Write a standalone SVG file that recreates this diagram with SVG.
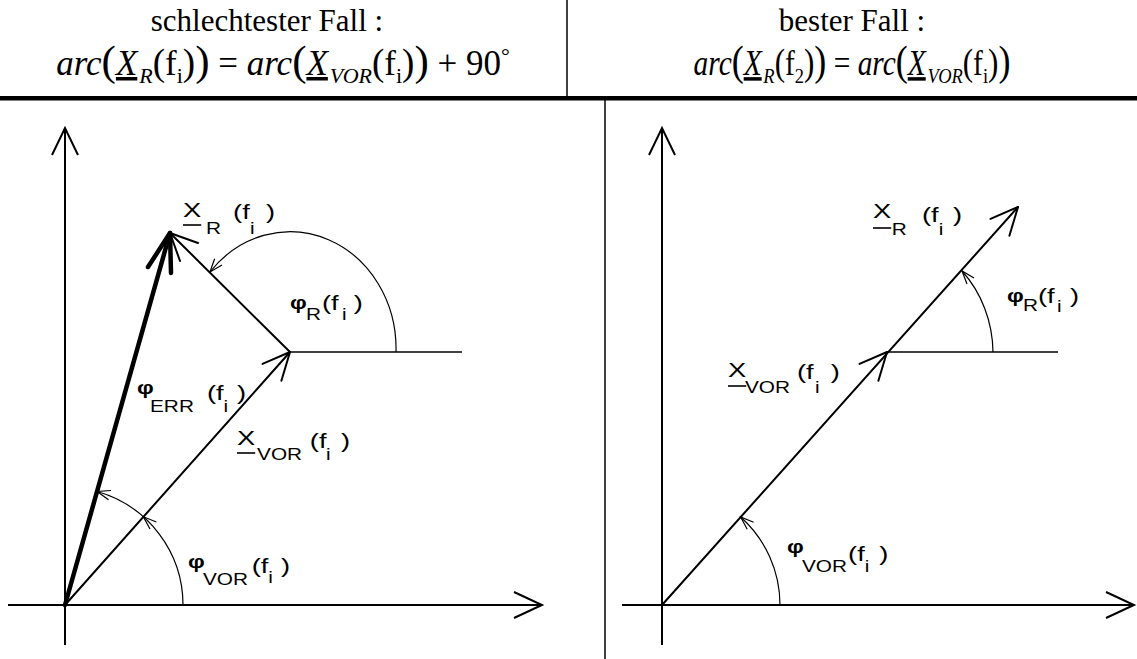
<svg xmlns="http://www.w3.org/2000/svg" width="1137" height="659" viewBox="0 0 1137 659">
<defs>
<style>
.ax{stroke:#000;stroke-width:2;fill:none}
.thin{stroke:#000;stroke-width:1.5;fill:none}
.vec{stroke:#000;stroke-width:2;fill:none;stroke-linecap:round;stroke-linejoin:round}
.thick{stroke:#000;stroke-width:4.5;fill:none;stroke-linecap:round;stroke-linejoin:round}
.arc{stroke:#000;stroke-width:1.2;fill:none}
.hd{font-family:"Liberation Serif","Times New Roman",serif;font-size:31px;fill:#000}
.eq{font-family:"Liberation Serif","Times New Roman",serif;font-size:35px;fill:#000}
.it{font-style:italic}
.ul{text-decoration:underline}
.sb{font-size:22px}
.mp{font-size:37px}
.bp{font-size:43px}
.lb{font-family:"Liberation Sans",Arial,sans-serif;font-size:21px;fill:#000}
.ls{font-size:16px}
.ph{font-size:18px;font-weight:bold}
.uln{stroke:#000;stroke-width:1.6}
</style>
</defs>
<rect width="1137" height="659" fill="#fff"/>
<g id="header">
<rect x="0" y="96" width="1137" height="4.5" fill="#000"/>
<line class="thin" x1="567" y1="0" x2="567" y2="97"/>
<line class="thin" x1="605" y1="100" x2="605" y2="659"/>
<text class="hd" x="267" y="31" text-anchor="middle">schlechtester Fall :</text>
<text class="eq" x="283" y="75" text-anchor="middle"><tspan class="it">arc</tspan><tspan class="bp">(</tspan><tspan class="it ul">X</tspan><tspan class="it sb" dx="2" dy="8">R</tspan><tspan class="mp" dy="-8">(</tspan><tspan>f</tspan><tspan class="sb" dy="8">i</tspan><tspan class="mp" dy="-8">)</tspan><tspan class="bp">)</tspan><tspan> = </tspan><tspan class="it">arc</tspan><tspan class="bp">(</tspan><tspan class="it ul">X</tspan><tspan class="it sb" dx="2" dy="8">VOR</tspan><tspan class="mp" dy="-8">(</tspan><tspan>f</tspan><tspan class="sb" dy="8">i</tspan><tspan class="mp" dy="-8">)</tspan><tspan class="bp">)</tspan><tspan> + 90</tspan><tspan font-size="22" dy="-12">°</tspan></text>
<text class="hd" x="852" y="31" text-anchor="middle">bester Fall :</text>
<g transform="translate(852 0) scale(0.84 1) translate(-852 0)">
<text class="eq" x="852" y="75" text-anchor="middle"><tspan class="it">arc</tspan><tspan class="bp">(</tspan><tspan class="it ul">X</tspan><tspan class="it sb" dx="2" dy="8">R</tspan><tspan class="mp" dy="-8">(</tspan><tspan>f</tspan><tspan class="sb" dy="8">2</tspan><tspan class="mp" dy="-8">)</tspan><tspan class="bp">)</tspan><tspan> = </tspan><tspan class="it">arc</tspan><tspan class="bp">(</tspan><tspan class="it ul">X</tspan><tspan class="it sb" dx="2" dy="8">VOR</tspan><tspan class="mp" dy="-8">(</tspan><tspan>f</tspan><tspan class="sb" dy="8">i</tspan><tspan class="mp" dy="-8">)</tspan><tspan class="bp">)</tspan></text>
</g>
</g>
<g id="left-axes">
<line class="ax" x1="65" y1="645" x2="65" y2="128"/>
<polyline class="ax" points="52,155 65,128 78,155"/>
<line class="ax" x1="8" y1="605" x2="542" y2="605"/>
<polyline class="ax" points="514,592 542,605 514,618"/>
<line class="thin" x1="290" y1="352" x2="462" y2="352"/>
</g>
<g id="right-axes">
<line class="ax" x1="662" y1="645" x2="662" y2="128"/>
<polyline class="ax" points="649,155 662,128 675,155"/>
<line class="ax" x1="622" y1="605" x2="1134" y2="605"/>
<polyline class="ax" points="1106,592 1134,605 1106,618"/>
<line class="thin" x1="887" y1="352" x2="1058" y2="352"/>
</g>
<g id="connectors">
<line class="vec" x1="65" y1="605" x2="290" y2="352"/>
<polyline class="vec" points="262.5,363.9 290,352 281.4,380.7"/>
<line class="vec" x1="290" y1="352" x2="170" y2="233"/>
<polyline class="vec" points="198,243 170,233 180,261"/>
<line class="thick" x1="65" y1="605" x2="170" y2="233"/>
<polyline class="thick" points="148,267 170,233 171,273"/>
<path class="arc" d="M396,352 A106,117 0 0 0 210,272"/>
<polyline class="arc" points="222,265 210,272 214.6,258.8"/>
<path class="arc" d="M183,605 A118,118 0 0 0 97.1,491.5"/>
<polyline class="arc" points="156.4,522 143.4,516.8 150,529"/>
<polyline class="arc" points="111,490.5 97.1,491.5 108.5,499.7"/>
<line class="vec" x1="662" y1="605" x2="1018" y2="207"/>
<polyline class="vec" points="859.5,363.9 887,352 878.4,380.7"/>
<polyline class="vec" points="990.5,218.9 1018,207 1009.4,235.7"/>
<path class="arc" d="M993,352 A106,117 0 0 0 962,271"/>
<polyline class="arc" points="974,278 962,271 967,284"/>
<path class="arc" d="M780,605 A118,118 0 0 0 740.6,517"/>
<polyline class="arc" points="753.6,522.2 740.6,517 747.2,529.3"/>
</g>
<g id="lbl-xr-left" transform="translate(183 0) scale(1.3 1)">
<text class="lb"><tspan x="0" y="217">X</tspan><tspan class="ls" x="17.7" y="234">R</tspan><tspan x="38.5" y="219">(f</tspan><tspan class="ls" x="51.5" y="234">i</tspan><tspan x="63.8" y="219">)</tspan></text>
<line class="uln" x1="0" y1="225" x2="14" y2="225"/>
</g>
<g id="lbl-phir-left" transform="translate(290 0) scale(1.3 1)">
<text class="lb"><tspan class="ph" x="0" y="309">φ</tspan><tspan class="ls" x="12.3" y="320">R</tspan><tspan x="24.6" y="310">(f</tspan><tspan class="ls" x="40" y="320">i</tspan><tspan x="49" y="310">)</tspan></text>
</g>
<g id="lbl-phierr" transform="translate(137 0) scale(1.3 1)">
<text class="lb"><tspan class="ph" x="0" y="394">φ</tspan><tspan class="ls" x="10" y="412">ERR</tspan><tspan x="53.8" y="400">(f</tspan><tspan class="ls" x="66.6" y="412">i</tspan><tspan x="77" y="400">)</tspan></text>
</g>
<g id="lbl-xvor-left" transform="translate(237 0) scale(1.3 1)">
<text class="lb"><tspan x="0" y="445">X</tspan><tspan class="ls" x="15.4" y="460">VOR</tspan><tspan x="56" y="448">(f</tspan><tspan class="ls" x="68.5" y="460">i</tspan><tspan x="80" y="448">)</tspan></text>
<line class="uln" x1="0" y1="453" x2="14" y2="453"/>
</g>
<g id="lbl-phivor-left" transform="translate(188 0) scale(1.3 1)">
<text class="lb"><tspan class="ph" x="0" y="568">φ</tspan><tspan class="ls" x="11.5" y="585">VOR</tspan><tspan x="49" y="573">(f</tspan><tspan class="ls" x="61.8" y="583">i</tspan><tspan x="71.5" y="573">)</tspan></text>
</g>
<g id="lbl-xr-right" transform="translate(873 0) scale(1.3 1)">
<text class="lb"><tspan x="0" y="218">X</tspan><tspan class="ls" x="14.5" y="235">R</tspan><tspan x="37.7" y="222">(f</tspan><tspan class="ls" x="50.5" y="235">i</tspan><tspan x="61.5" y="222">)</tspan></text>
<line class="uln" x1="0" y1="228" x2="14" y2="228"/>
</g>
<g id="lbl-phir-right" transform="translate(1007 0) scale(1.3 1)">
<text class="lb"><tspan class="ph" x="0" y="302">φ</tspan><tspan class="ls" x="12.3" y="311">R</tspan><tspan x="23.8" y="303">(f</tspan><tspan class="ls" x="38.5" y="312">i</tspan><tspan x="48.5" y="303">)</tspan></text>
</g>
<g id="lbl-xvor-right" transform="translate(728 0) scale(1.3 1)">
<text class="lb"><tspan x="0" y="377">X</tspan><tspan class="ls" x="13" y="393">VOR</tspan><tspan x="53" y="379">(f</tspan><tspan class="ls" x="67" y="393">i</tspan><tspan x="79" y="379">)</tspan></text>
<line class="uln" x1="0" y1="386" x2="14" y2="386"/>
</g>
<g id="lbl-phivor-right" transform="translate(787 0) scale(1.3 1)">
<text class="lb"><tspan class="ph" x="0" y="553">φ</tspan><tspan class="ls" x="11.5" y="572">VOR</tspan><tspan x="47" y="561">(f</tspan><tspan class="ls" x="59.8" y="572">i</tspan><tspan x="71" y="561">)</tspan></text>
</g>
</svg>
